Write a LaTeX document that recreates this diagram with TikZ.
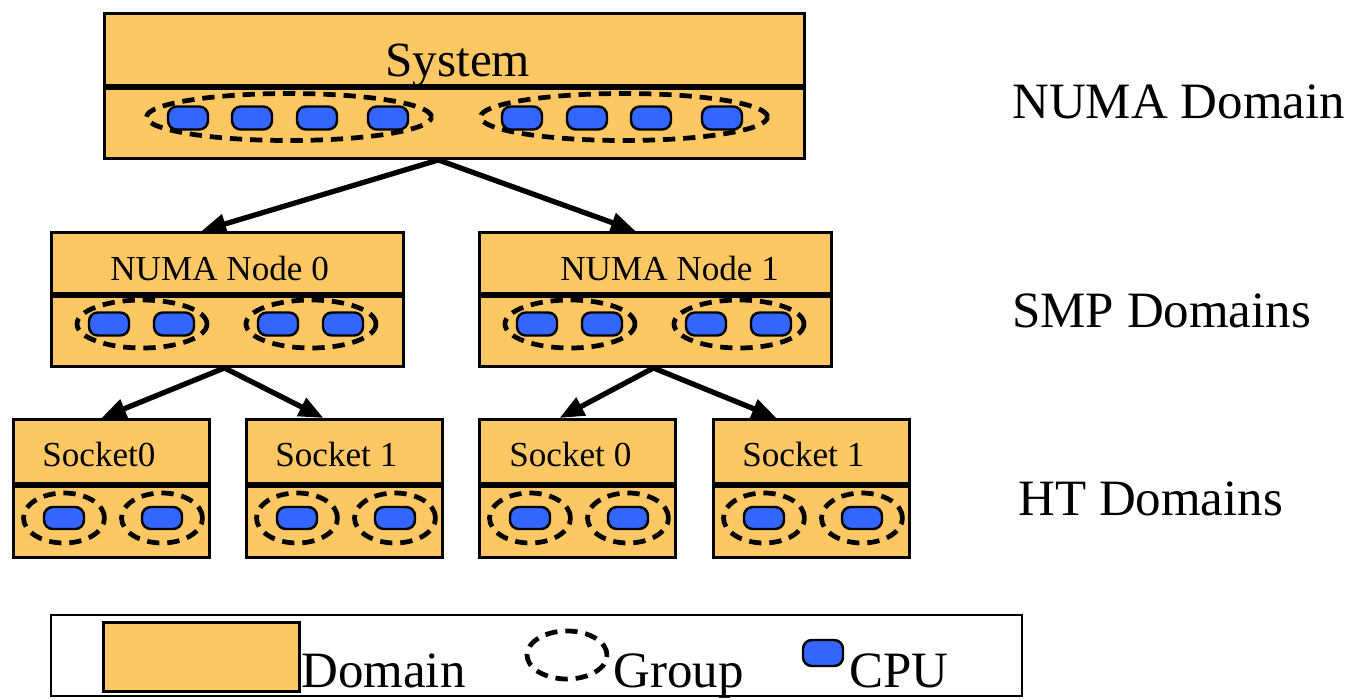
\documentclass[tikz,border=0pt]{standalone}
\usepackage{fontspec}
\setmainfont{Liberation Serif}
\usetikzlibrary{shapes.geometric,arrows.meta,calc}
\definecolor{domfill}{RGB}{253,200,100}
\definecolor{cpublue}{RGB}{51,102,255}
\tikzset{
  dom/.style={draw, fill=domfill, line width=1.7pt, inner sep=0pt, anchor=north west},
  grp/.style={draw, ellipse, line width=2.7pt, dash pattern=on 7pt off 4.5pt, inner sep=0pt},
  cpu/.style={draw, fill=cpublue, line width=1.4pt, rectangle, rounded corners=5pt,
    minimum width=0.8cm, minimum height=0.46cm, inner sep=0pt},
  arr/.style={-{Triangle[length=14pt,width=11pt]}, line width=3pt},
  big/.style={font=\fontsize{29}{34}\selectfont, anchor=base west, inner sep=0pt},
  mid/.style={font=\fontsize{20}{24}\selectfont, anchor=base west, inner sep=0pt},
}
\begin{document}
\begin{tikzpicture}[x=0.02cm, y=-0.02cm]
\useasboundingbox (0,0) rectangle (1360,700);

% System
\node[dom, minimum width=14cm, minimum height=1.44cm] (sys) at (103,12) {};
\node[dom, minimum width=14cm, minimum height=1.4cm] (sysrow) at (sys.south west) {};
\node[font=\fontsize{28}{32}\selectfont, anchor=base west, inner sep=0pt] (systxt) at (385,76) {System};
\node[grp, minimum width=5.7cm, minimum height=0.94cm] (sysg0) at (289,117) {};
\node[grp, minimum width=5.74cm, minimum height=0.94cm] (sysg1) at (624,117) {};
\foreach \x in {188,252,317,388,522,587,651,722}
  \node[cpu] (syscpu\x) at (\x,118) {};

% NUMA nodes
\foreach \n/\x/\t in {0/50/110, 1/478/560} {
  \node[dom, minimum width=7.04cm, minimum height=1.22cm] (nn\n) at (\x,231) {};
  \node[dom, minimum width=7.04cm, minimum height=1.4cm] (nnrow\n) at (nn\n.south west) {};
  \node[mid] (nntxt\n) at (\t,280) {NUMA Node \n};
}
\foreach \g in {142,311,570,739} {
  \node[grp, minimum width=2.6cm, minimum height=0.96cm] (smpg\g) at (\g,324) {};
  \node[cpu] (smpcpua\g) at (\g-33,324) {};
  \node[cpu] (smpcpub\g) at (\g+32,324) {};
}

% sockets
\foreach \n/\x/\t/\s in {00/12/42/Socket0, 01/245/275/Socket 1, 10/478/509/Socket 0, 11/712/742/Socket 1} {
  \node[dom, minimum width=3.92cm, minimum height=1.28cm] (sk\n) at (\x,418) {};
  \node[dom, minimum width=3.92cm, minimum height=1.42cm] (skrow\n) at (sk\n.south west) {};
  \node[mid] (sktxt\n) at (\t,466) {\s};
  \foreach \d in {52,150} {
    \node[grp, minimum width=1.62cm, minimum height=1cm] (htg\n\d) at (\x+\d,518) {};
    \node[cpu, minimum height=0.44cm] (htcpu\n\d) at (\x+\d,518) {};
  }
}

% arrows
\draw[arr] ($(sysrow.south)+(-16,0)$) -- ($(nn0.north)+(-26,0)$);
\draw[arr] ($(sysrow.south)+(-16,0)$) -- ($(nn1.north)+(-20,0)$);
\draw[arr] ($(nnrow0.south)+(-3,0)$) -- ($(sk00.north)+(-10,0)$);
\draw[arr] ($(nnrow0.south)+(-3,0)$) -- ($(sk01.north)+(-21,0)$);
\draw[arr] ($(nnrow1.south)+(-2,0)$) -- ($(sk10.north)+(-18,0)$);
\draw[arr] ($(nnrow1.south)+(-2,0)$) -- ($(sk11.north)+(-35,0)$);

% levels
\node[big] (numadom) at (1012,118) {NUMA Domain};
\node[big] (smpdom) at (1012,327) {SMP Domains};
\node[big] (htdom) at (1018,515) {HT Domains};

% legend
\node[draw, line width=1.3pt, anchor=north west, minimum width=19.42cm, minimum height=1.62cm, inner sep=0pt] (legend) at (50,614) {};
\node[dom, minimum width=3.92cm, minimum height=1.38cm] (legdom) at (102,621) {};
\node[big] (legdomtxt) at (301,687) {Domain};
\node[grp, minimum width=1.6cm, minimum height=0.96cm] (leggrp) at (567,655) {};
\node[big] (leggrptxt) at (613,687) {Group};
\node[cpu, minimum height=0.52cm] (legcpu) at (823,653) {};
\node[big] (legcputxt) at (849,687) {CPU};

\end{tikzpicture}
\end{document}
